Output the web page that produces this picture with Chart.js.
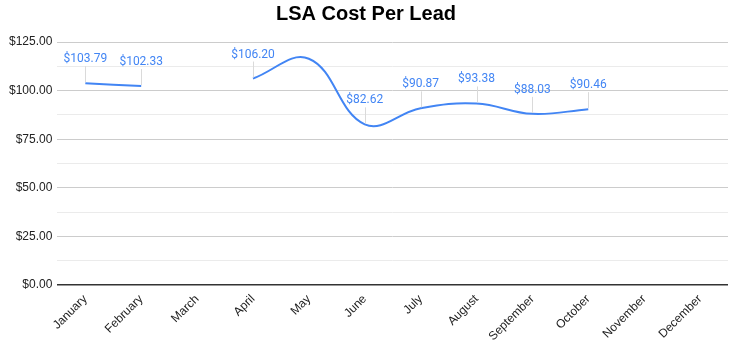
<!DOCTYPE html>
<html lang="en">
<head>
  <meta charset="UTF-8">
  <title>LSA Cost Per Lead</title>
  <script src="https://cdn.jsdelivr.net/npm/chart.js"></script>
  <style>
    html, body { margin: 0; padding: 0; background: #fff; }
    #wrap { width: 734px; height: 343px; }
  </style>
</head>
<body>
  <div id="wrap"><canvas id="cplChart" width="734" height="343"></canvas></div>

  <script>
    const months = ['January', 'February', 'March', 'April', 'May', 'June', 'July',
                    'August', 'September', 'October', 'November', 'December'];
    const costPerLead = [103.79, 102.33, null, 106.20, 116.4, 82.62, 90.87, 93.38, 88.03, 90.46, null, null];
    // months whose value annotation is not shown
    const unlabelled = ['May'];

    const lineBlue = '#4285f4';

    // value annotations with a thin stem, drawn above each point
    const annotations = {
      id: 'annotations',
      afterDatasetsDraw(chart) {
        const ctx = chart.ctx;
        const meta = chart.getDatasetMeta(0);
        ctx.save();
        meta.data.forEach((pt, i) => {
          const v = costPerLead[i];
          if (v === null || unlabelled.includes(months[i])) return;
          ctx.strokeStyle = '#dadada';
          ctx.lineWidth = 1;
          ctx.beginPath();
          ctx.moveTo(Math.round(pt.x) + 0.5, pt.y - 1);
          ctx.lineTo(Math.round(pt.x) + 0.5, pt.y - 17);
          ctx.stroke();
          ctx.fillStyle = lineBlue;
          ctx.font = '12px Roboto';
          ctx.textAlign = 'center';
          ctx.textBaseline = 'middle';
          ctx.fillText('$' + v.toFixed(2), pt.x, pt.y - 24);
        });
        ctx.restore();
      }
    };

    new Chart(document.getElementById('cplChart'), {
      type: 'line',
      data: {
        labels: months,
        datasets: [{
          data: costPerLead,
          borderColor: lineBlue,
          borderWidth: 2,
          pointRadius: 0,
          tension: 0.4,
          spanGaps: false,
          fill: false
        }]
      },
      options: {
        responsive: false,
        animation: false,
        layout: { padding: { left: 4, right: 6, top: 0, bottom: 0 } },
        scales: {
          x: {
            offset: true,
            grid: { display: false, drawTicks: false },
            border: { display: false },
            afterFit: s => { s.height = 58; },
            ticks: {
              maxRotation: 45,
              minRotation: 45,
              autoSkip: false,
              padding: 7,
              color: '#222',
              font: { family: 'Liberation Sans', size: 12 }
            }
          },
          y: {
            min: 0,
            max: 125,
            border: { display: false },
            grid: {
              drawTicks: false,
              color: c => c.tick.value === 0 ? '#333' : (c.tick.value % 25 === 0 ? '#cccccc' : '#ebebeb'),
              lineWidth: c => c.tick.value === 0 ? 1.5 : 1
            },
            ticks: {
              stepSize: 12.5,
              padding: 5,
              color: '#222',
              font: { family: 'Liberation Sans', size: 12 },
              callback: v => v % 25 === 0 ? '$' + v.toFixed(2) : ''
            }
          }
        },
        plugins: {
          legend: { display: false },
          tooltip: { enabled: false },
          title: {
            display: true,
            text: 'LSA Cost Per Lead',
            color: '#000',
            font: { family: 'Liberation Sans', size: 20, weight: 'bold' },
            padding: { top: 2, bottom: 16 }
          }
        }
      },
      plugins: [annotations]
    });
  </script>
</body>
</html>
